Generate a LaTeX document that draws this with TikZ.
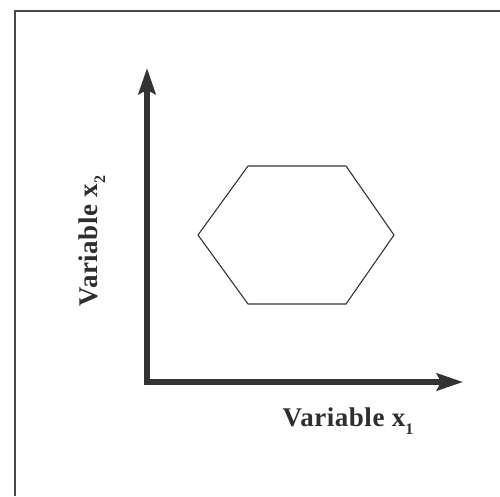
\documentclass[tikz,border=0pt]{standalone}
\usepackage{fontspec}
\setmainfont{Liberation Serif}[LetterSpace=2]
\usetikzlibrary{arrows.meta,calc}
\definecolor{ink}{HTML}{333333}
\tikzset{
  frameline/.style={draw=ink!90, line width=1.8pt},
  axisline/.style={draw=ink, line width=5.5pt, line cap=butt, line join=miter,
    -{Stealth[length=26pt,width=17pt,inset=4pt]}},
  hexline/.style={draw=ink, line width=1.1pt, line join=miter},
  axislabel/.style={font=\bfseries\fontsize{27}{30}\selectfont, text=ink!90!black, inner sep=0pt}
}
\newcommand{\subone}[1]{\raisebox{-0.3em}{\fontsize{16}{16}\selectfont #1}}
\begin{document}
\begin{tikzpicture}[x=1pt,y=-1pt]
\useasboundingbox (0,0) rectangle (500,496);
% frame (right and bottom sides lie outside the picture)
\coordinate (fl) at (15,496);
\coordinate (ftl) at (15,11);
\coordinate (ftr) at (500,11);
\draw[frameline] (fl) -- (ftl) -- (ftr);
% axes
\coordinate (O) at (147,382);
\coordinate (Ocorner) at (144.25,382);
\coordinate (Ytip) at (147,68);
\coordinate (Xtip) at (463,382);
\draw[axisline] (O) -- (Ytip);
\draw[axisline] (Ocorner) -- (Xtip);
% hexagon
\coordinate (h1) at (198,235);
\coordinate (h2) at (248,166);
\coordinate (h3) at (346,166);
\coordinate (h4) at (394,235);
\coordinate (h5) at (346,304);
\coordinate (h6) at (248,304);
\draw[hexline] (h1) -- (h2) -- (h3) -- (h4) -- (h5) -- (h6) -- cycle;
% labels
\node[axislabel, anchor=base] (xl) at (348,426) {Variable x\subone{1}};
\node[axislabel, anchor=base, rotate=90] (yl) at (97,241) {Variable x\subone{2}};
\end{tikzpicture}
\end{document}
